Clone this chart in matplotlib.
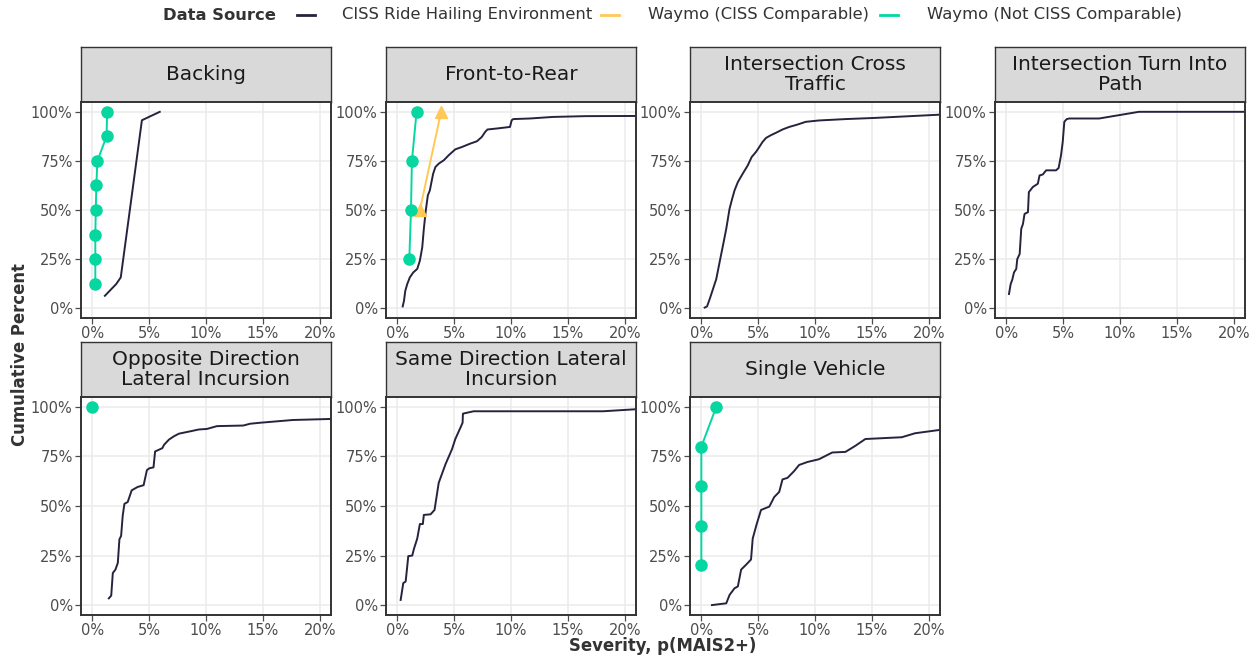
import numpy as np
import matplotlib.pyplot as plt
import matplotlib.ticker as mticker
from matplotlib.lines import Line2D

# colours of the three data sources
c_ciss = '#26233f'
c_comp = '#ffc857'
c_notc = '#06d6a0'

panel_titles = ['Backing', 'Front-to-Rear', 'Intersection Cross\nTraffic',
                'Intersection Turn Into\nPath', 'Opposite Direction\nLateral Incursion',
                'Same Direction Lateral\nIncursion', 'Single Vehicle']

# (severity %, cumulative %)
backing_ciss = [(1.1, 6.3), (2.1, 12.3), (2.5, 15.7), (4.36, 95.7), (5.93, 100)]
backing_notc = [(0.26, 12.5), (0.26, 25), (0.26, 37.5), (0.3, 50), (0.35, 62.5),
                (0.44, 75), (1.25, 87.5), (1.3, 100)]

f2r_ciss = [(0.47, 0.9), (0.58, 3.7), (0.7, 8.9), (0.87, 12.3), (1.1, 15.7), (1.4, 18.2),
            (1.75, 20), (1.98, 24.2), (2.19, 31), (2.33, 40.4), (2.5, 49.7), (2.68, 57.4),
            (2.86, 60), (3.0, 64.2), (3.15, 68.5), (3.35, 71.9), (3.64, 73.6), (4.08, 75.3),
            (4.52, 77.9), (5.1, 80.9), (5.69, 82.1), (6.41, 83.8), (7.0, 85), (7.43, 87.2),
            (7.73, 89.8), (7.93, 91), (8.75, 91.5), (9.91, 92.3), (10.06, 95.7), (10.2, 96.3),
            (11.66, 96.6), (13.7, 97.4), (16.6, 97.8), (21.5, 97.9)]
f2r_comp = [(1.98, 50), (3.85, 100)]
f2r_notc = [(1.05, 25), (1.2, 50), (1.28, 75), (1.69, 100)]

ict_ciss = [(0.29, 0.3), (0.5, 0.9), (0.73, 4.6), (1.02, 9.7), (1.31, 14.8), (1.6, 23.3),
            (1.9, 31.9), (2.19, 40.4), (2.48, 50.6), (2.71, 55.7), (2.92, 60), (3.21, 64.2),
            (3.64, 68.5), (4.08, 72.7), (4.43, 77), (4.81, 79.6), (5.1, 82.1), (5.39, 84.7),
            (5.69, 86.7), (6.12, 88.1), (6.56, 89.3), (7.14, 91), (7.73, 92.3), (8.45, 93.5),
            (9.18, 94.9), (10.35, 95.6), (12.7, 96.3), (15.3, 96.9), (21.5, 98.7)]

itp_ciss = [(0.23, 7.2), (0.38, 12.3), (0.52, 14.5), (0.67, 18.2), (0.87, 20), (0.96, 25),
            (1.17, 27.6), (1.31, 40.4), (1.46, 42.9), (1.6, 48), (1.9, 48.9), (1.98, 59.1),
            (2.33, 61.7), (2.77, 63.4), (2.92, 67.6), (3.21, 68.1), (3.5, 70.2), (4.37, 70.2),
            (4.6, 71.4), (4.81, 77.9), (4.96, 84.7), (5.1, 94.9), (5.31, 96.3), (5.54, 96.6),
            (8.16, 96.6), (11.66, 100), (21.5, 100)]

odl_ciss = [(1.45, 3.4), (1.66, 4.8), (1.8, 16.2), (2.03, 17.9), (2.24, 21.3), (2.38, 33.2),
            (2.53, 34.9), (2.67, 45.1), (2.82, 51.1), (3.11, 52), (3.46, 57.9), (3.98, 59.6),
            (4.51, 60.5), (4.8, 68.1), (5.0, 69), (5.38, 69.5), (5.52, 77.5), (6.16, 79.2),
            (6.31, 80.9), (6.74, 83.5), (7.18, 85.2), (7.62, 86.5), (8.63, 87.7), (9.36, 88.6),
            (10.09, 88.9), (10.96, 90.3), (13.28, 90.6), (13.87, 91.5), (14.74, 92),
            (17.65, 93.4), (21.5, 94)]
odl_notc = [(0.0, 100)]

sdl_ciss = [(0.29, 2.6), (0.52, 11.1), (0.73, 11.9), (0.87, 19.6), (0.96, 24.7), (1.31, 25),
            (1.46, 28.4), (1.75, 33.6), (1.98, 40.9), (2.24, 40.9), (2.33, 45.5), (2.92, 45.8),
            (3.27, 48), (3.64, 61.7), (4.23, 71), (4.81, 78.7), (5.1, 83.8), (5.54, 89.4),
            (5.74, 92), (5.77, 96.6), (6.71, 97.8), (18.1, 97.8), (21.5, 99)]

sv_ciss = [(0.93, 0), (2.19, 0.9), (2.48, 5.1), (2.92, 8.5), (3.21, 9.4), (3.5, 17.9),
           (3.94, 20.4), (4.37, 23), (4.52, 33.6), (4.87, 40.9), (5.25, 48), (5.98, 49.7),
           (6.41, 54.5), (6.85, 57.1), (7.14, 63.4), (7.58, 64.2), (8.16, 67.6), (8.6, 70.7),
           (9.33, 72.2), (10.35, 73.6), (11.52, 77), (12.68, 77.3), (13.56, 80.4),
           (14.43, 83.8), (17.64, 84.7), (18.8, 86.7), (21.5, 88.8)]
sv_notc = [(0.0, 20), (0.0, 40), (0.0, 60), (0.0, 80), (1.31, 100)]

panels = [
    (backing_ciss, None, backing_notc),
    (f2r_ciss, f2r_comp, f2r_notc),
    (ict_ciss, None, None),
    (itp_ciss, None, None),
    (odl_ciss, None, odl_notc),
    (sdl_ciss, None, None),
    (sv_ciss, None, sv_notc),
]

W, H = 1260, 657
fig = plt.figure(figsize=(W / 100, H / 100), dpi=100)
plt.rcParams['font.family'] = 'DejaVu Sans'


def px_axes(x0, y0, x1, y1):
    return fig.add_axes([x0 / W, 1 - y1 / H, (x1 - x0) / W, (y1 - y0) / H])


col_left = [81, 386, 690, 995]
width = 250
rows = [(47, 102, 318), (342, 397, 615)]

for i, (title, (ciss, comp, notc)) in enumerate(zip(panel_titles, panels)):
    r, c = divmod(i, 4)
    st, pt, pb = rows[r]
    x0 = col_left[c]

    sax = px_axes(x0, st, x0 + width, pt)
    sax.set_facecolor('#d9d9d9')
    sax.set_xticks([])
    sax.set_yticks([])
    for s in sax.spines.values():
        s.set_color('#333333')
        s.set_linewidth(1.0)
    sax.text(0.5, 0.5, title, ha='center', va='center', fontsize=14.5,
             color='#1a1a1a', transform=sax.transAxes, linespacing=1.05)

    ax = px_axes(x0, pt, x0 + width, pb)
    ax.set_xlim(-1, 21)
    ax.set_ylim(-5, 105)
    ax.set_xticks([0, 5, 10, 15, 20])
    ax.set_yticks([0, 25, 50, 75, 100])
    ax.xaxis.set_major_formatter(mticker.PercentFormatter(decimals=0))
    ax.yaxis.set_major_formatter(mticker.PercentFormatter(decimals=0))
    ax.grid(True, color='#ebebeb', lw=1.1)
    ax.set_axisbelow(True)
    ax.tick_params(labelsize=10.5, colors='#4d4d4d', length=4, width=0.9, pad=2)
    for s in ax.spines.values():
        s.set_color('#333333')
        s.set_linewidth(1.4)

    xs, ys = zip(*ciss)
    ax.plot(xs, ys, color=c_ciss, lw=1.4, clip_on=True)
    if comp:
        xs, ys = zip(*comp)
        ax.plot(xs, ys, color=c_comp, lw=1.4, marker='^', ms=9, clip_on=False)
    if notc:
        xs, ys = zip(*notc)
        ax.plot(xs, ys, color=c_notc, lw=1.4, marker='o', ms=8, clip_on=False)

# axis titles
fig.text(20 / W, 1 - 355 / H, 'Cumulative Percent', rotation=90, ha='center', va='center',
         fontsize=11.9, fontweight='bold', color='#333333')
fig.text(663 / W, 1 - 646 / H, 'Severity, p(MAIS2+)', ha='center', va='center',
         fontsize=11.9, fontweight='bold', color='#333333')

# legend across the top
ly = 1 - 15 / H
fig.text(163 / W, ly, 'Data Source', ha='left', va='center', fontsize=11.8,
         fontweight='bold', color='#333333')
legend_items = [(c_ciss, 'CISS Ride Hailing Environment', 297, 342),
                (c_comp, 'Waymo (CISS Comparable)', 601, 648),
                (c_notc, 'Waymo (Not CISS Comparable)', 880, 927)]
for col, lab, lx, tx in legend_items:
    fig.add_artist(Line2D([lx / W, (lx + 18) / W], [ly, ly], color=col, lw=2))
    fig.text(tx / W, ly, lab, ha='left', va='center', fontsize=11.8, color='#333333')

fig.savefig('out.png', dpi=100)
